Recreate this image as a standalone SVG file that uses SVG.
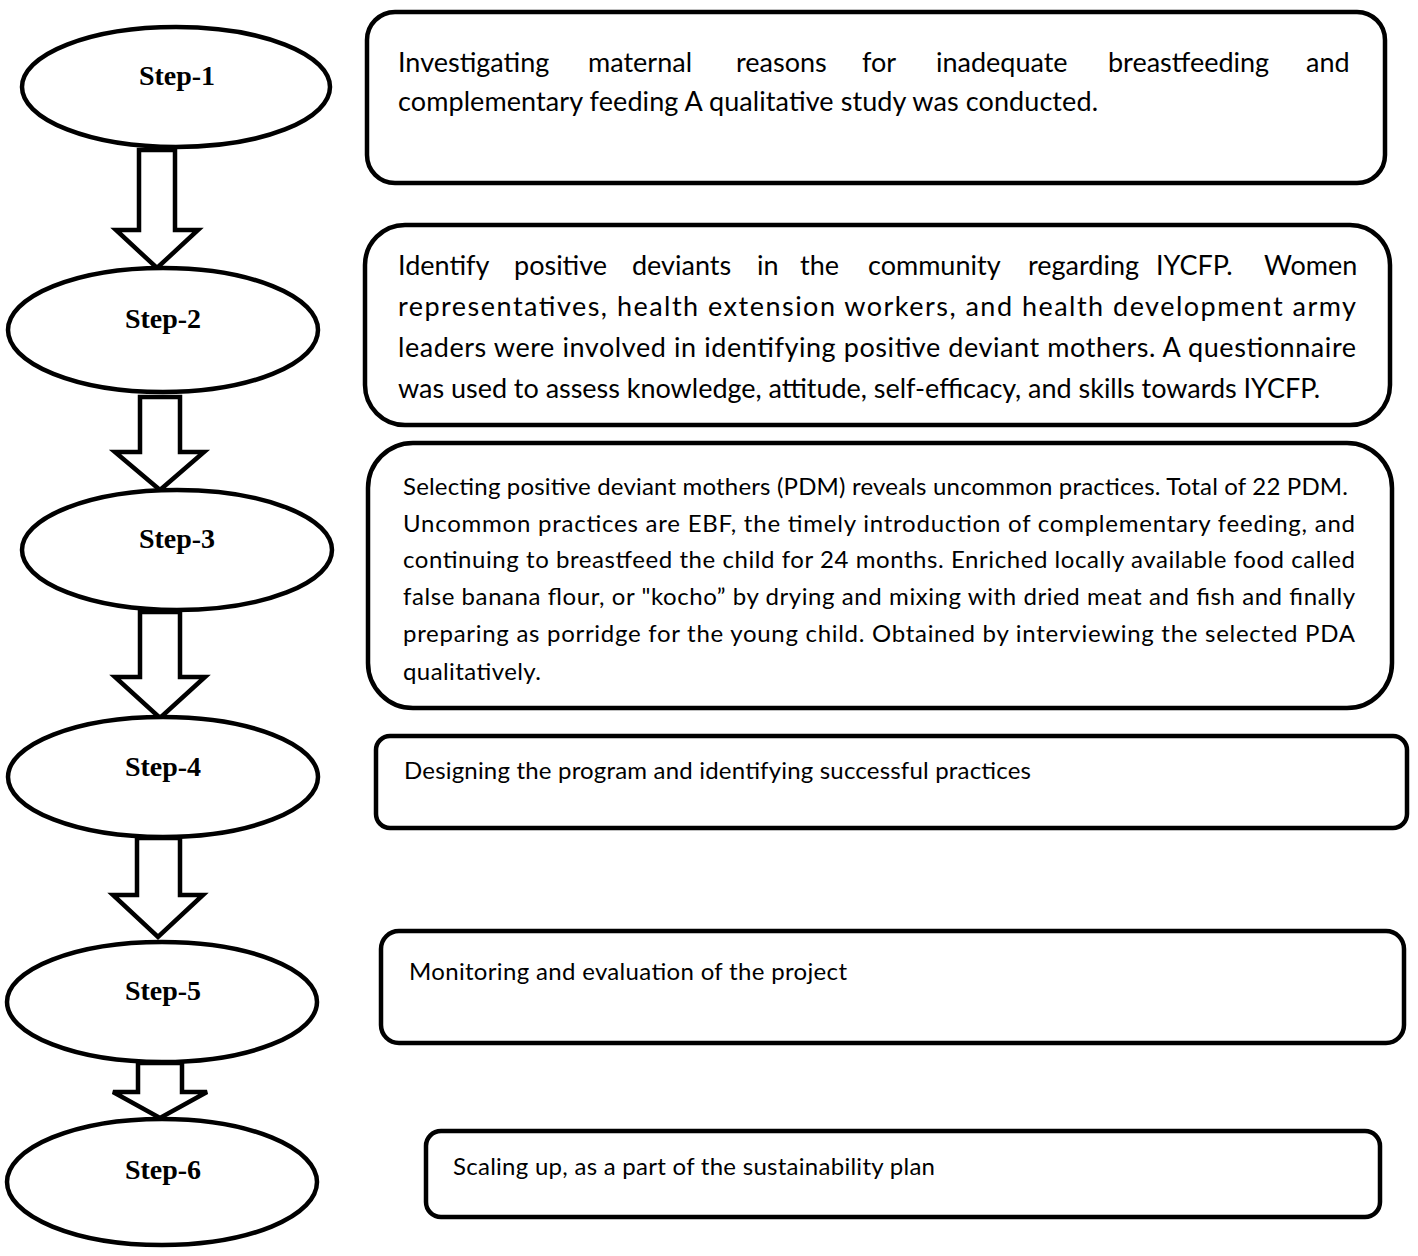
<svg xmlns="http://www.w3.org/2000/svg" width="1418" height="1256" viewBox="0 0 1418 1256">
<style>
.bg{fill:#fff}
.arrow{fill:#fff;stroke:#000;stroke-width:4.5;stroke-linejoin:miter}
.ell{fill:#fff;stroke:#000;stroke-width:4.5}
.box{fill:#fff;stroke:#000;stroke-width:4.5}
.step{font-family:"Liberation Serif","Times New Roman",serif;font-weight:bold;font-size:28px;fill:#000;text-anchor:middle}
.t1{font-family:Lato,"Open Sans","Liberation Sans",sans-serif;font-size:27px;fill:#000}
.t2{font-family:Lato,"Open Sans","Liberation Sans",sans-serif;font-size:24px;fill:#000}
</style>
<rect class="bg" x="0" y="0" width="1418" height="1256"/>
<g id="connectors">
<polygon class="arrow" points="139,150 175,150 175,230 198,230 157,268 116,230 139,230"/>
<polygon class="arrow" points="140,397 180,397 180,452 204,452 160,490 115,452 140,452"/>
<polygon class="arrow" points="140,612 180,612 180,677 205,677 160,718 115,677 140,677"/>
<polygon class="arrow" points="137,838 180,838 180,895 203,895 158,937 113,895 137,895"/>
<polygon class="arrow" points="138,1063 182,1063 182,1092 207,1092 160,1118 113,1092 138,1092"/>
</g>
<g id="step1"><ellipse class="ell" cx="176" cy="87" rx="154" ry="60"/><text class="step" x="177" y="85">Step-1</text></g>
<g id="step2"><ellipse class="ell" cx="163" cy="330" rx="155" ry="62"/><text class="step" x="163" y="328">Step-2</text></g>
<g id="step3"><ellipse class="ell" cx="177" cy="550" rx="155" ry="60"/><text class="step" x="177" y="548">Step-3</text></g>
<g id="step4"><ellipse class="ell" cx="163" cy="777" rx="155" ry="60"/><text class="step" x="163" y="776">Step-4</text></g>
<g id="step5"><ellipse class="ell" cx="162" cy="1002" rx="155" ry="60"/><text class="step" x="163" y="1000">Step-5</text></g>
<g id="step6"><ellipse class="ell" cx="162" cy="1182" rx="155" ry="63"/><text class="step" x="163" y="1179">Step-6</text></g>
<g id="box1">
<rect class="box" x="367" y="12" width="1018" height="171" rx="28"/>
<text class="t1" y="72"><tspan x="398">Investigating</tspan><tspan x="588">maternal</tspan><tspan x="736">reasons</tspan><tspan x="862">for</tspan><tspan x="936">inadequate</tspan><tspan x="1108">breastfeeding</tspan><tspan x="1306">and</tspan></text>
<text class="t1" x="398" y="111" textLength="700" lengthAdjust="spacing">complementary feeding A qualitative study was conducted.</text>
</g>
<g id="box2">
<rect class="box" x="365" y="225" width="1025" height="200" rx="40"/>
<text class="t1" y="275"><tspan x="398">Identify</tspan><tspan x="514">positive</tspan><tspan x="632">deviants</tspan><tspan x="757">in</tspan><tspan x="800">the</tspan><tspan x="868">community</tspan><tspan x="1028">regarding</tspan><tspan x="1156">IYCFP.</tspan><tspan x="1264">Women</tspan></text>
<text class="t1" x="398" y="316" textLength="958" lengthAdjust="spacing">representatives, health extension workers, and health development army</text>
<text class="t1" x="398" y="357" textLength="958" lengthAdjust="spacing">leaders were involved in identifying positive deviant mothers. A questionnaire</text>
<text class="t1" x="398" y="398" textLength="922" lengthAdjust="spacing">was used to assess knowledge, attitude, self-efficacy, and skills towards IYCFP.</text>
</g>
<g id="box3">
<rect class="box" x="368" y="443" width="1024" height="265" rx="45"/>
<text class="t2" x="403" y="495" textLength="945" lengthAdjust="spacing">Selecting positive deviant mothers (PDM) reveals uncommon practices. Total of 22 PDM.</text>
<text class="t2" x="403" y="532" textLength="952" lengthAdjust="spacing">Uncommon practices are EBF, the timely introduction of complementary feeding, and</text>
<text class="t2" x="403" y="568" textLength="952" lengthAdjust="spacing">continuing to breastfeed the child for 24 months. Enriched locally available food called</text>
<text class="t2" x="403" y="605" textLength="952" lengthAdjust="spacing">false banana flour, or "kocho” by drying and mixing with dried meat and fish and finally</text>
<text class="t2" x="403" y="642" textLength="952" lengthAdjust="spacing">preparing as porridge for the young child. Obtained by interviewing the selected PDA</text>
<text class="t2" x="403" y="680" textLength="138" lengthAdjust="spacing">qualitatively.</text>
</g>
<g id="box4">
<rect class="box" x="376" y="736" width="1031" height="92" rx="14"/>
<text class="t2" x="404" y="779" textLength="627" lengthAdjust="spacing">Designing the program and identifying successful practices</text>
</g>
<g id="box5">
<rect class="box" x="381" y="931" width="1023" height="112" rx="18"/>
<text class="t2" x="409" y="980" textLength="438" lengthAdjust="spacing">Monitoring and evaluation of the project</text>
</g>
<g id="box6">
<rect class="box" x="426" y="1131" width="954" height="86" rx="15"/>
<text class="t2" x="453" y="1175" textLength="482" lengthAdjust="spacing">Scaling up, as a part of the sustainability plan</text>
</g>
</svg>
